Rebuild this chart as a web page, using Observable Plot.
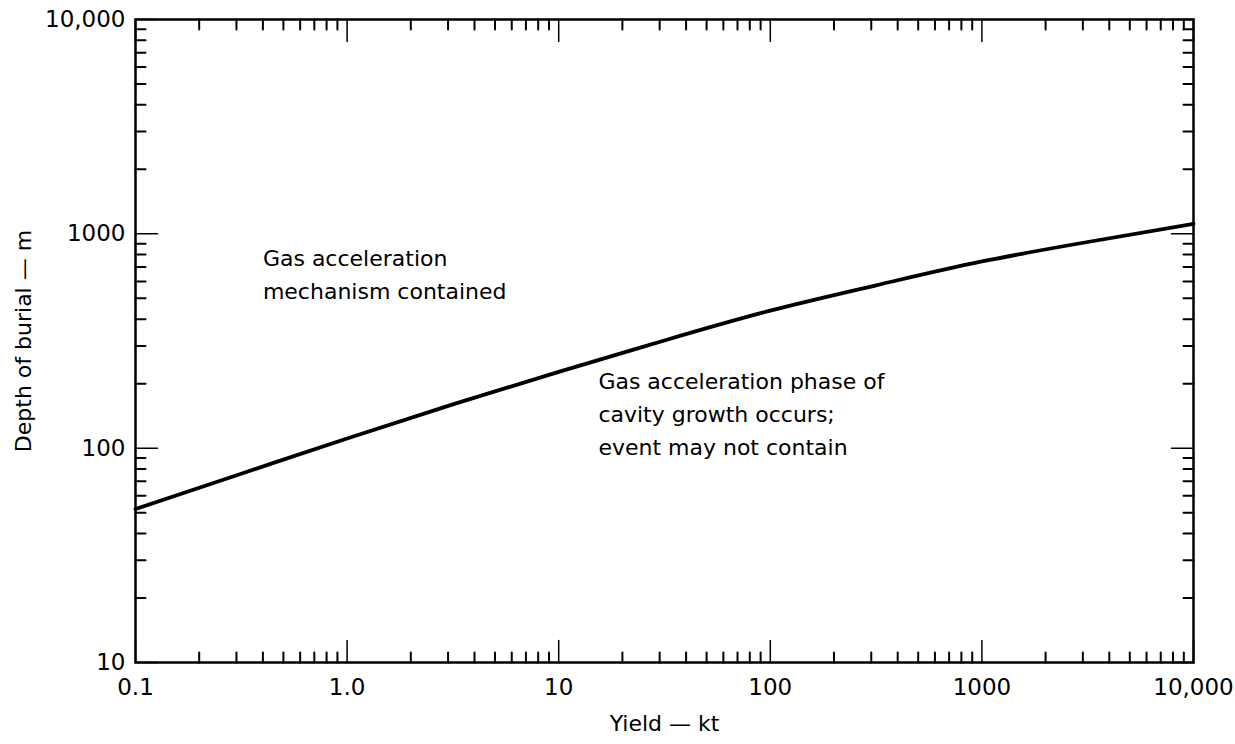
<!DOCTYPE html>
<html>
<head>
<meta charset="utf-8">
<script src="https://cdn.jsdelivr.net/npm/d3@7"></script>
<script src="https://cdn.jsdelivr.net/npm/@observablehq/plot@0.6"></script>
<style>
  html, body { margin: 0; padding: 0; background: #fff; }
  #chart svg { display: block; }
</style>
</head>
<body>
<div id="chart"></div>
<script>
// Data (yield in kt, depth of burial in m)
const yieldKt = [0.1, 0.316, 1, 3.16, 10, 31.6, 100, 316, 1000, 3162, 10000];
const depthM  = [52, 76, 111, 160, 227, 318, 438, 575, 743, 916, 1114];

// Axis ticks
const xMajor = [0.1, 1, 10, 100, 1000, 10000];
const xLabels = ["0.1", "1.0", "10", "100", "1000", "10,000"];
const yMajor = [10, 100, 1000, 10000];
const yLabels = ["10", "100", "1000", "10,000"];

// Annotations
const notes = [
  {x: 0.40, y: 665, text: "Gas acceleration\nmechanism contained"},
  {x: 15.4, y: 148, text: "Gas acceleration phase of\ncavity growth occurs;\nevent may not contain"}
];

const minorOf = (majors) => {
  const out = [];
  for (let i = 0; i < majors.length - 1; i++)
    for (let m = 2; m <= 9; m++) out.push(majors[i] * m);
  return out;
};
const xMinor = minorOf(xMajor);
const yMinor = minorOf(yMajor);

const curve = yieldKt.map((x, i) => ({x, y: depthM[i]}));
const line = {draw(ctx, l) { ctx.moveTo(0, 0); ctx.lineTo(0, -l); }};
const font = "DejaVu Sans, sans-serif";

const tickMarks = (vals, len, sw) => [
  Plot.vector(vals, {x: d => d, frameAnchor: "bottom", rotate: 0, length: len, anchor: "start", shape: line, stroke: "black", strokeWidth: sw}),
  Plot.vector(vals, {x: d => d, frameAnchor: "top", rotate: 180, length: len, anchor: "start", shape: line, stroke: "black", strokeWidth: sw})
];
const tickMarksY = (vals, len, sw) => [
  Plot.vector(vals, {y: d => d, frameAnchor: "left", rotate: 90, length: len, anchor: "start", shape: line, stroke: "black", strokeWidth: sw}),
  Plot.vector(vals, {y: d => d, frameAnchor: "right", rotate: -90, length: len, anchor: "start", shape: line, stroke: "black", strokeWidth: sw})
];

const chart = Plot.plot({
  width: 1235,
  height: 744,
  marginLeft: 135,
  marginRight: 42,
  marginTop: 19,
  marginBottom: 82,
  style: {fontFamily: font, background: "#fff", color: "#000"},
  x: {type: "log", domain: [0.1, 10000], axis: null},
  y: {type: "log", domain: [10, 10000], axis: null},
  marks: [
    ...tickMarks(xMinor, 10, 2),
    ...tickMarks(xMajor, 22, 1.5),
    ...tickMarksY(yMinor, 10, 2),
    ...tickMarksY(yMajor, 22, 1.5),
    Plot.frame({stroke: "black", strokeWidth: 2.5}),
    Plot.line(curve, {x: "x", y: "y", curve: "natural", stroke: "black", strokeWidth: 3.8}),
    Plot.text(xMajor, {x: d => d, text: (d, i) => xLabels[i], frameAnchor: "bottom", dy: 32, fontSize: 23, fill: "black"}),
    Plot.text(yMajor, {y: d => d, text: (d, i) => yLabels[i], frameAnchor: "left", textAnchor: "end", dx: -10, fontSize: 23, fill: "black"}),
    Plot.text(["Yield — kt"], {frameAnchor: "bottom", dy: 68, fontSize: 22, letterSpacing: "0.5px", fill: "black"}),
    Plot.text(["Depth of burial — m"], {frameAnchor: "left", textAnchor: "middle", dx: -112, rotate: -90, fontSize: 22, letterSpacing: "0.7px", fill: "black"}),
    Plot.text(notes, {x: "x", y: "y", text: "text", textAnchor: "start", lineHeight: 1.5, fontSize: 22, letterSpacing: "0.8px", fill: "black"})
  ]
});
document.getElementById("chart").append(chart);
</script>
</body>
</html>
